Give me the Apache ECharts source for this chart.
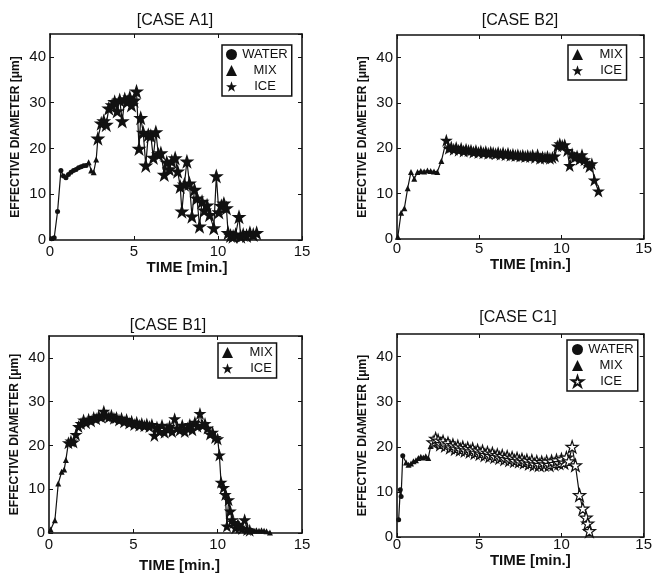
<!DOCTYPE html>
<html>
<head>
<meta charset="utf-8">
<script src="https://cdn.jsdelivr.net/npm/echarts@6/dist/echarts.min.js"></script>
<style>
    html, body {margin: 0; padding: 0; background: #fff;}
    #chart {width: 655px; height: 574px;}
</style>
</head>
<body>
<div id="chart"></div>
<script>
    // time [min.], effective diameter [um]
    var a1Water = [[0.1, 0.3], [0.25, 0.5], [0.45, 6.2], [0.65, 15.2], [0.8, 14.0], [0.95, 13.6], [1.1, 14.3], [1.25, 14.8], [1.4, 15.2], [1.55, 15.4], [1.7, 15.8], [1.85, 16.0], [2.0, 16.2], [2.15, 16.3]];
    var a1Mix = [[2.3, 17.0], [2.45, 15.2], [2.6, 14.8], [2.75, 17.6]];
    var a1Ice = [[2.85, 22.2], [3.05, 25.5], [3.2, 26.0], [3.35, 25.2], [3.5, 28.8], [3.7, 29.5], [3.85, 30.2], [4.0, 28.2], [4.15, 30.6], [4.3, 26.0], [4.45, 30.8], [4.6, 30.2], [4.75, 31.2], [4.85, 29.5], [5.0, 30.5], [5.15, 32.5], [5.3, 20.0], [5.4, 26.7], [5.55, 23.5], [5.7, 16.3], [5.85, 23.0], [6.0, 22.8], [6.15, 18.0], [6.3, 23.6], [6.45, 18.7], [6.6, 19.0], [6.8, 14.3], [6.95, 17.0], [7.1, 15.5], [7.25, 17.2], [7.45, 17.9], [7.6, 15.0], [7.75, 11.7], [7.85, 6.3], [8.0, 12.2], [8.15, 17.2], [8.3, 12.4], [8.45, 5.2], [8.6, 11.0], [8.75, 9.1], [8.9, 3.0], [9.05, 8.4], [9.2, 6.5], [9.35, 7.6], [9.5, 5.5], [9.75, 2.6], [9.9, 14.0], [10.05, 6.1], [10.2, 7.5], [10.35, 8.0], [10.5, 7.0], [10.6, 1.6], [10.75, 1.0], [10.9, 0.8], [11.05, 1.2], [11.25, 5.1], [11.35, 0.8], [11.5, 1.2], [11.7, 1.0], [11.9, 1.6], [12.1, 1.2], [12.3, 1.6]];

    var b2Mix = [[0.05, 0.5], [0.25, 5.8], [0.45, 6.8], [0.65, 11.2], [0.85, 14.8], [1.05, 13.3], [1.25, 14.8], [1.45, 15.0], [1.65, 14.9], [1.85, 15.1], [2.05, 15.0], [2.25, 14.9], [2.45, 14.8], [2.7, 17.2]];
    var b2Ice = [[3.0, 21.8], [3.15, 20.0], [3.3, 20.3], [3.45, 19.8], [3.6, 20.2], [3.75, 19.6], [3.9, 20.0], [4.05, 19.4], [4.2, 19.8], [4.35, 19.5], [4.5, 19.6], [4.65, 19.2], [4.8, 19.5], [4.95, 19.1], [5.1, 19.4], [5.25, 19.0], [5.4, 19.3], [5.55, 18.9], [5.7, 19.2], [5.85, 19.0], [6.0, 18.8], [6.15, 19.1], [6.3, 18.7], [6.45, 19.0], [6.6, 18.6], [6.75, 18.9], [6.9, 18.5], [7.05, 18.7], [7.2, 18.4], [7.35, 18.6], [7.5, 18.3], [7.65, 18.5], [7.8, 18.2], [7.95, 18.4], [8.1, 18.2], [8.25, 18.5], [8.4, 18.0], [8.55, 18.6], [8.7, 17.8], [8.85, 18.1], [9.0, 17.9], [9.15, 18.2], [9.3, 17.8], [9.45, 18.0], [9.6, 18.3], [9.75, 20.5], [9.9, 21.0], [10.05, 20.6], [10.2, 20.8], [10.35, 19.5], [10.5, 16.2], [10.65, 18.8], [10.8, 18.0], [10.95, 18.3], [11.1, 17.6], [11.25, 18.6], [11.4, 17.5], [11.55, 16.8], [11.7, 16.0], [11.85, 16.6], [12.0, 13.0], [12.25, 10.6]];

    var b1Mix = [[0.1, 0.8], [0.35, 2.9], [0.55, 11.3], [0.75, 14.0], [0.9, 14.5], [1.0, 16.7], [12.0, 0.6], [12.15, 0.5], [12.3, 0.6], [12.45, 0.5], [12.6, 0.6], [12.75, 0.5], [12.9, 0.4], [13.1, 0.1]];
    var b1Ice = [[1.15, 20.6], [1.3, 21.0], [1.45, 20.8], [1.6, 22.5], [1.75, 24.3], [1.9, 25.0], [2.05, 25.8], [2.2, 25.2], [2.35, 26.0], [2.5, 25.6], [2.65, 26.4], [2.8, 26.1], [2.95, 26.8], [3.1, 26.5], [3.25, 27.8], [3.4, 26.8], [3.55, 26.5], [3.7, 26.9], [3.85, 26.2], [4.0, 26.4], [4.15, 25.8], [4.3, 26.2], [4.45, 25.4], [4.6, 25.9], [4.75, 25.1], [4.9, 25.5], [5.05, 24.8], [5.2, 25.3], [5.35, 24.6], [5.5, 25.0], [5.65, 24.5], [5.8, 24.9], [5.95, 24.3], [6.1, 24.8], [6.25, 22.3], [6.4, 24.2], [6.55, 23.2], [6.7, 24.6], [6.85, 23.0], [7.0, 23.8], [7.15, 24.4], [7.3, 23.2], [7.45, 26.1], [7.6, 24.0], [7.75, 23.5], [7.9, 24.6], [8.05, 23.2], [8.2, 24.0], [8.35, 24.8], [8.5, 23.6], [8.65, 25.3], [8.8, 24.4], [8.95, 27.3], [9.1, 24.6], [9.25, 25.0], [9.4, 24.0], [9.55, 22.6], [9.7, 23.0], [9.85, 21.8], [10.0, 21.5], [10.1, 17.8], [10.2, 11.6], [10.35, 10.4], [10.45, 8.8], [10.55, 1.6], [10.65, 7.6], [10.75, 5.0], [10.85, 3.0], [10.95, 2.4], [11.05, 1.2], [11.2, 2.0], [11.3, 1.3], [11.45, 1.0], [11.6, 3.0], [11.75, 0.8], [11.9, 0.6]];

    var c1Water = [[0.1, 3.8], [0.2, 10.5], [0.25, 9.0], [0.35, 18.0]];
    var c1Mix = [[0.55, 16.5], [0.7, 16.0], [0.85, 16.3], [1.0, 16.8], [1.15, 17.0], [1.3, 17.5], [1.45, 17.8], [1.6, 17.6], [1.75, 17.9], [1.9, 17.5], [2.05, 20.2]];
    var c1Ice = [[2.2, 21.0], [2.35, 21.8], [2.5, 21.4], [2.65, 20.6], [2.8, 21.2], [2.95, 20.3], [3.1, 20.8], [3.25, 19.9], [3.4, 20.4], [3.55, 19.6], [3.7, 20.1], [3.85, 19.4], [4.0, 19.9], [4.15, 19.2], [4.3, 19.7], [4.45, 19.0], [4.6, 19.5], [4.75, 18.7], [4.9, 19.2], [5.05, 18.5], [5.2, 19.0], [5.35, 18.2], [5.5, 18.7], [5.65, 18.0], [5.8, 18.5], [5.95, 17.8], [6.1, 18.2], [6.25, 17.6], [6.4, 18.0], [6.55, 17.3], [6.7, 17.8], [6.85, 17.1], [7.0, 17.6], [7.15, 16.9], [7.3, 17.4], [7.45, 16.8], [7.6, 17.2], [7.75, 16.6], [7.9, 17.0], [8.05, 16.3], [8.2, 16.9], [8.35, 16.1], [8.5, 16.7], [8.65, 16.0], [8.8, 16.6], [8.95, 16.1], [9.1, 16.7], [9.25, 16.0], [9.4, 16.8], [9.55, 16.2], [9.7, 17.0], [9.85, 16.4], [10.0, 17.2], [10.15, 16.5], [10.3, 17.6], [10.45, 16.8], [10.65, 20.0], [10.85, 15.9], [11.1, 9.3], [11.3, 6.3], [11.5, 4.3], [11.6, 3.0], [11.7, 1.3]];

    var xTicks = [0, 15, 5];   // min, max, interval
    var yTicks = [0, 45, 10];

    var ink = '#111';
    var font = '"Liberation Sans", Arial, sans-serif';
    var star = 'path://M50 0L61.8 35.1H98.5L68.8 56.7L80.2 91.9L50 70.3L19.8 91.9L31.2 56.7L1.5 35.1H38.2Z';

    var panels = [
        {id: 'A1', grid: {left: 50, top: 34, width: 252, height: 206}, title: [170, 8], nameGap: 20, xPad: 22, labelMargin: 4,
            legend: {left: 222, top: 45}, water: a1Water, mix: a1Mix, ice: a1Ice, starSize: 15, hollow: false},
        {id: 'B2', grid: {left: 397, top: 35, width: 253, height: 204}, title: [515, 8], nameGap: 11, xPad: 20, labelMargin: 2,
            legend: {left: 568, top: 45}, water: null, mix: b2Mix, ice: b2Ice, starSize: 13, hollow: false},
        {id: 'B1', grid: {left: 49, top: 336, width: 253, height: 202}, title: [163, 313], nameGap: 25, xPad: 8, labelMargin: 4,
            legend: {left: 218, top: 343}, water: null, mix: b1Mix, ice: b1Ice, starSize: 13, hollow: false},
        {id: 'C1', grid: {left: 397, top: 334, width: 251, height: 203}, title: [513, 305], nameGap: 8, xPad: 20, labelMargin: 0,
            legend: {left: 567, top: 340}, water: c1Water, mix: c1Mix, ice: c1Ice, starSize: 12, hollow: true}
    ];

    var option = {
        backgroundColor: '#fff',
        animation: false,
        textStyle: {fontFamily: font, color: ink},
        title: [], grid: [], xAxis: [], yAxis: [], legend: [], series: []
    };

    function axisBase(gi, pos) {
        var isY = pos === 'left' || pos === 'right';
        var t = isY ? yTicks : xTicks;
        return {
            type: 'value', gridIndex: gi, position: pos,
            min: t[0], max: t[1], interval: t[2],
            splitLine: {show: false},
            axisLine: {show: true, onZero: false, lineStyle: {color: ink, width: 1.6}},
            axisTick: {show: true, inside: true, length: 4, lineStyle: {color: ink}},
            axisLabel: {show: false}
        };
    }

    panels.forEach(function (p, gi) {
        option.grid.push(p.grid);
        option.title.push({
            text: '[CASE ' + p.id + ']', left: p.title[0], top: p.title[1], textAlign: 'center',
            textStyle: {fontFamily: font, fontSize: 16, fontWeight: 'normal', color: ink}
        });

        var xb = axisBase(gi, 'bottom');
        xb.axisLabel = {show: true, fontSize: 15, color: ink, margin: p.labelMargin, fontFamily: font};
        xb.name = 'TIME [min.]';
        xb.nameLocation = 'middle';
        xb.nameGap = p.nameGap;
        xb.nameTextStyle = {fontSize: 15, fontWeight: 'bold', color: ink, fontFamily: font, padding: [0, 0, 0, p.xPad]};
        var xt = axisBase(gi, 'top');
        option.xAxis.push(xb, xt);

        var yl = axisBase(gi, 'left');
        yl.axisLabel = {show: true, fontSize: 15, color: ink, margin: 4, fontFamily: font, showMaxLabel: false};
        yl.name = 'EFFECTIVE DIAMETER [\u03bcm]';
        yl.nameLocation = 'middle';
        yl.nameGap = 28;
        yl.nameTextStyle = {fontSize: 12, fontWeight: 'bold', color: ink, fontFamily: font};
        var yr = axisBase(gi, 'right');
        option.yAxis.push(yl, yr);

        var xi = gi * 2, yi = gi * 2;
        var all = [].concat(p.water || [], p.mix, p.ice).sort(function (a, b) { return a[0] - b[0]; });
        option.series.push({
            name: p.id + ' line', type: 'line', xAxisIndex: xi, yAxisIndex: yi, data: all,
            showSymbol: false, lineStyle: {color: ink, width: 1.2}, z: 1, silent: true
        });

        var names = [];
        if (p.water) {
            names.push(p.id + ' WATER');
            option.series.push({
                name: p.id + ' WATER', type: 'scatter', xAxisIndex: xi, yAxisIndex: yi, data: p.water,
                symbol: 'circle', symbolSize: 5, itemStyle: {color: ink, opacity: 1}, z: 3
            });
        }
        names.push(p.id + ' MIX');
        option.series.push({
            name: p.id + ' MIX', type: 'scatter', xAxisIndex: xi, yAxisIndex: yi, data: p.mix,
            symbol: 'triangle', symbolSize: 6, itemStyle: {color: ink, opacity: 1}, z: 3
        });
        names.push(p.id + ' ICE');
        option.series.push({
            name: p.id + ' ICE', type: 'scatter', xAxisIndex: xi, yAxisIndex: yi, data: p.ice,
            symbol: star, symbolSize: p.starSize,
            itemStyle: p.hollow ? {color: '#fff', borderColor: ink, borderWidth: 1.2, opacity: 1} : {color: ink, opacity: 1},
            z: 3
        });

        option.legend.push({
            left: p.legend.left, top: p.legend.top, orient: 'vertical', data: names,
            backgroundColor: '#fff', borderColor: ink, borderWidth: 1.5, borderRadius: 0,
            padding: [3, 4, 3, 4], itemGap: 3, itemWidth: 11, itemHeight: 11, selectedMode: false,
            formatter: function (n) { return '{t|' + n.split(' ')[1] + '}'; },
            textStyle: {color: ink, fontFamily: font, fontSize: 13, rich: {t: {width: 46, align: 'center', fontSize: 13, fontFamily: font, color: ink}}}
        });
    });

    var myChart = echarts.init(document.getElementById('chart'));
    myChart.setOption(option);
</script>
</body>
</html>
